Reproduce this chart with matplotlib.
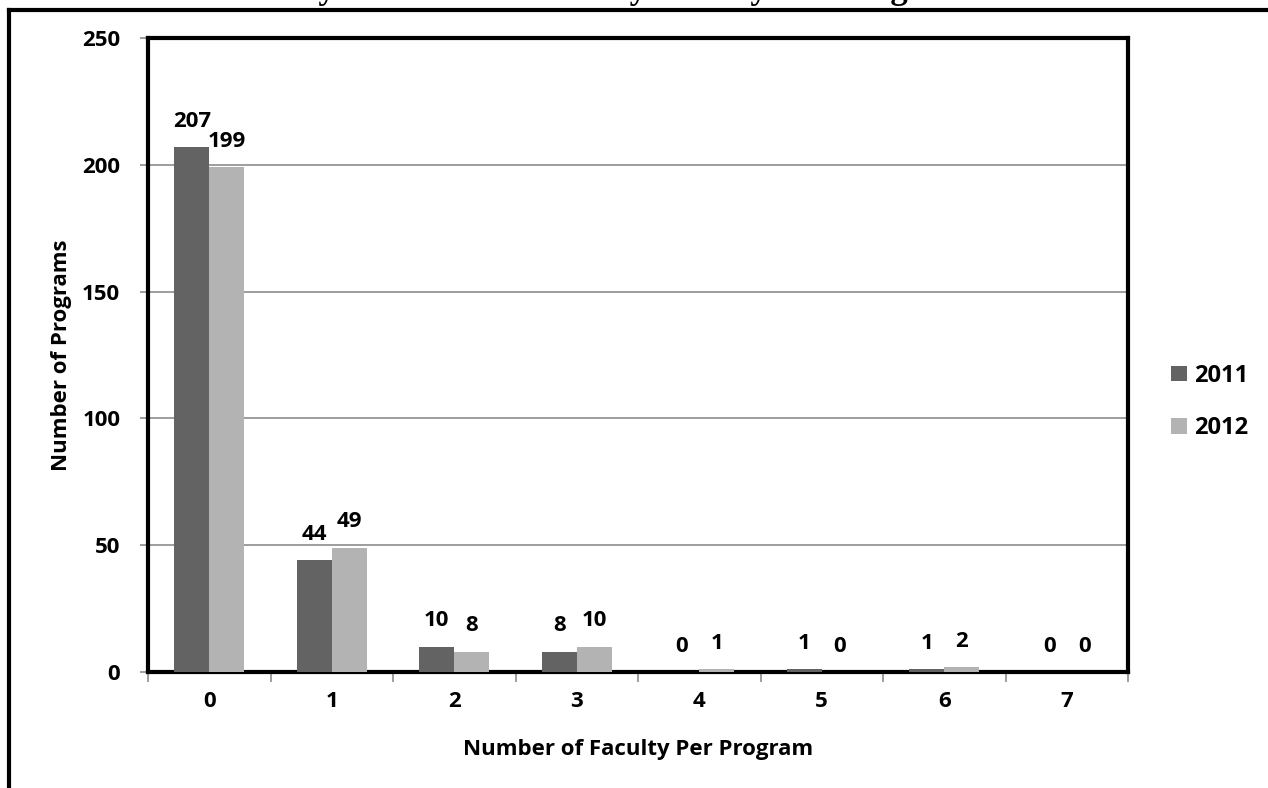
import numpy as np
import matplotlib.pyplot as plt
from matplotlib.lines import Line2D

# data
categories = ['0', '1', '2', '3', '4', '5', '6', '7']
programs_2011 = [207, 44, 10, 8, 0, 1, 1, 0]
programs_2012 = [199, 49, 8, 10, 1, 0, 2, 0]
series_names = ['2011', '2012']

plt.rcParams['font.family'] = ['Open Sans', 'DejaVu Sans']

fig = plt.figure(figsize=(12.68, 7.88), dpi=100)
W, H = 1268, 788
ax = fig.add_axes([148 / W, 1 - 672 / H, (1128 - 148) / W, (672 - 38) / H])

x = np.arange(len(categories))
bw = 0.285
c2011 = '#636363'
c2012 = '#b3b3b3'
b1 = ax.bar(x - bw / 2, programs_2011, bw, color=c2011, label=series_names[0], zorder=3)
b2 = ax.bar(x + bw / 2, programs_2012, bw, color=c2012, label=series_names[1], zorder=3)

for bars in (b1, b2):
    for rect in bars:
        h = rect.get_height()
        ax.annotate(f'{h:.0f}', (rect.get_x() + rect.get_width() / 2, h),
                    xytext=(0, 11), textcoords='offset points',
                    ha='center', va='bottom', fontsize=16, fontweight='bold')

ax.set_xlim(-0.5, len(categories) - 0.5)
ax.set_ylim(0, 250)
ax.set_yticks(range(0, 251, 50))
ax.yaxis.grid(True, color='#8c8c8c', linewidth=1.2, zorder=0)
ax.set_axisbelow(True)

# category labels centred, tick marks on the boundaries
ax.set_xticks(x)
ax.set_xticklabels(categories, fontsize=16, fontweight='bold')
ax.tick_params(axis='x', length=0, pad=14)
ax.set_xticks(np.arange(-0.5, len(categories)), minor=True)
ax.tick_params(axis='x', which='minor', length=7, width=1.2, color='#8c8c8c')
for lab in ax.get_yticklabels():
    lab.set_fontweight('bold')
ax.tick_params(axis='y', labelsize=16, length=6, width=1.2, color='#8c8c8c', pad=14)

for s in ax.spines.values():
    s.set_linewidth(3)
    s.set_color('black')

ax.set_xlabel('Number of Faculty Per Program', fontsize=16, fontweight='bold', labelpad=19)
ax.set_ylabel('Number of Programs', fontsize=16, fontweight='bold', labelpad=7)

leg = fig.legend(handles=[b1, b2], labels=series_names, loc='center left',
                 bbox_to_anchor=(1150 / W, 1 - 402 / H), frameon=False,
                 prop={'weight': 'bold', 'size': 17}, handlelength=0.65,
                 handleheight=0.65, handletextpad=0.3, labelspacing=1.2)

# title, clipped at the top of the image
fig.text(0.5, 1 + 2 / H, 'by Number of Minority Faculty Per Program',
         ha='center', va='baseline', fontsize=25, fontweight='bold',
         family=['Liberation Serif', 'DejaVu Serif'])

# outer frame
fig.add_artist(Line2D([9 / W, 1.0], [1 - 10 / H, 1 - 10 / H], transform=fig.transFigure,
                      color='black', linewidth=3))
fig.add_artist(Line2D([9 / W, 9 / W], [1 - 10 / H, 0], transform=fig.transFigure,
                      color='black', linewidth=3))

fig.savefig('out.png', dpi=100)
